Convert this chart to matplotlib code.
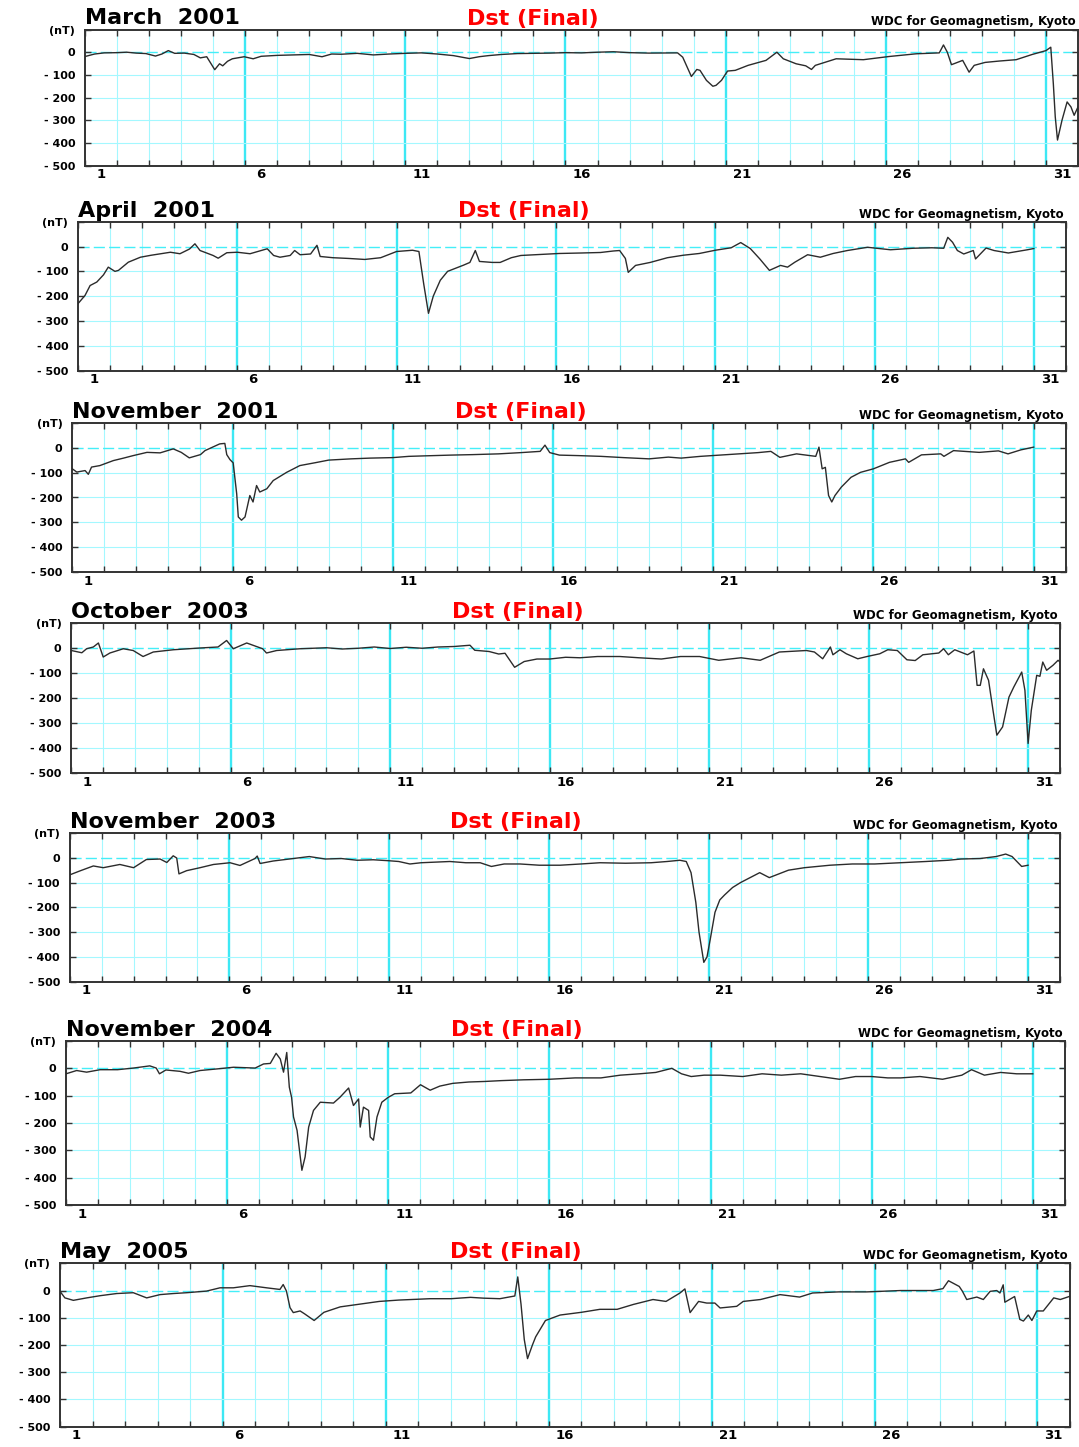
import matplotlib
matplotlib.use("Agg")
import matplotlib.pyplot as plt

W, H = 1079, 1447

# Dst samples per month: (days since 00 UT of day 1, Dst in nT)
mar2001 = [(0.0, -19), (0.3, -8), (0.6, -3), (1.0, -2), (1.3, 0), (1.6, -4), (1.9, -6), (2.2, -17),
           (2.4, -8), (2.6, 7), (2.8, -5), (3.1, -4), (3.4, -10), (3.6, -25), (3.8, -20), (4.05, -77),
           (4.2, -51), (4.3, -60), (4.45, -40), (4.6, -29), (4.97, -20), (5.25, -29), (5.5, -18),
           (6.0, -14), (6.5, -12), (7.0, -10), (7.4, -20), (7.7, -8), (8.0, -9), (8.5, -5), (9.0, -12),
           (9.5, -8), (10.0, -5), (10.5, -3), (11.0, -8), (11.5, -15), (12.0, -28), (12.3, -20),
           (12.6, -15), (13.0, -10), (13.5, -6), (14.0, -5), (14.5, -4), (15.0, -2), (15.5, -3),
           (16.0, 0), (16.5, 2), (17.0, -2), (17.6, -4), (18.5, -3), (18.66, -22), (18.93, -107),
           (19.1, -76), (19.2, -80), (19.4, -124), (19.6, -150), (19.7, -146), (19.87, -124),
           (20.06, -83), (20.3, -80), (20.7, -58), (21.26, -36), (21.6, 0), (21.8, -29), (22.2, -51),
           (22.5, -60), (22.68, -76), (22.8, -58), (23.45, -29), (24.3, -33), (25.1, -19), (25.95, -7),
           (26.67, -3), (26.8, 32), (26.92, 0), (27.05, -55), (27.4, -36), (27.6, -88), (27.76, -58),
           (28.1, -45), (28.54, -39), (29.07, -33), (29.57, -10), (30.0, 7), (30.15, 22), (30.23, -139),
           (30.29, -285), (30.36, -387), (30.5, -300), (30.66, -219), (30.78, -241), (30.88, -278),
           (31.0, -241)]

apr2001 = [(0.0, -230), (0.22, -197), (0.38, -157), (0.59, -143), (0.8, -114), (0.95, -83), (1.16, -100),
           (1.27, -96), (1.58, -63), (1.96, -43), (2.3, -35), (2.6, -29), (2.9, -23), (3.2, -29),
           (3.5, -10), (3.67, 11), (3.83, -16), (4.24, -36), (4.4, -47), (4.67, -25), (5.0, -23),
           (5.4, -29), (5.94, -9), (6.14, -36), (6.34, -43), (6.66, -36), (6.8, -16), (6.97, -33),
           (7.3, -30), (7.5, 5), (7.6, -40), (8.0, -45), (8.5, -48), (9.0, -52), (9.5, -45), (10.0, -20),
           (10.5, -15), (10.7, -20), (10.85, -150), (11.0, -269), (11.15, -200), (11.37, -136),
           (11.6, -100), (11.84, -88), (12.1, -75), (12.3, -64), (12.47, -16), (12.6, -60), (13.0, -64),
           (13.25, -64), (13.6, -45), (13.9, -36), (14.5, -32), (15.1, -28), (15.8, -26), (16.4, -24),
           (16.8, -18), (17.0, -16), (17.18, -48), (17.27, -104), (17.5, -76), (17.96, -64), (18.5, -45),
           (19.0, -35), (19.5, -28), (20.0, -15), (20.5, -5), (20.8, 16), (21.1, -8), (21.4, -50),
           (21.7, -96), (22.05, -76), (22.27, -83), (22.5, -63), (22.9, -33), (23.3, -43), (23.7, -28),
           (24.15, -16), (24.78, -3), (25.5, -13), (26.2, -7), (26.8, -5), (27.17, -7), (27.3, 37),
           (27.45, 17), (27.6, -16), (27.8, -30), (28.1, -16), (28.17, -50), (28.5, -6), (28.75, -16),
           (29.2, -26), (29.8, -13), (30.0, -8)]

nov2001 = [(0.0, -85), (0.14, -98), (0.4, -92), (0.5, -107), (0.6, -78), (0.86, -72), (1.28, -52),
           (1.6, -42), (1.9, -32), (2.33, -19), (2.74, -21), (3.15, -5), (3.4, -19), (3.65, -41),
           (4.0, -28), (4.14, -12), (4.6, 15), (4.76, 17), (4.82, -28), (4.92, -48), (5.02, -61),
           (5.13, -185), (5.18, -278), (5.28, -291), (5.39, -278), (5.54, -192), (5.64, -218),
           (5.75, -152), (5.85, -178), (6.07, -165), (6.27, -132), (6.69, -99), (7.1, -72), (7.6, -60),
           (8.0, -50), (8.7, -45), (9.3, -42), (10.0, -40), (10.5, -35), (11.0, -33), (11.8, -30),
           (12.5, -28), (13.3, -25), (14.0, -20), (14.6, -15), (14.75, 10), (14.9, -20), (15.2, -30),
           (15.8, -32), (16.5, -35), (17.2, -40), (18.0, -45), (18.6, -38), (19.0, -42), (19.6, -35),
           (20.2, -30), (20.8, -25), (21.4, -20), (21.8, -15), (22.08, -39), (22.6, -25), (23.2, -35),
           (23.3, 2), (23.4, -85), (23.5, -79), (23.6, -192), (23.7, -218), (23.8, -192), (24.0, -158),
           (24.3, -119), (24.6, -99), (25.0, -85), (25.5, -59), (26.0, -45), (26.1, -59), (26.5, -29),
           (27.1, -25), (27.2, -35), (27.5, -12), (28.3, -19), (28.9, -13), (29.2, -25), (29.6, -9),
           (30.0, 2)]

oct2003 = [(0.0, -11), (0.33, -20), (0.48, -4), (0.69, 3), (0.85, 19), (1.0, -37), (1.21, -21),
           (1.63, -4), (1.94, -11), (2.25, -35), (2.57, -17), (3.2, -8), (4.03, -1), (4.6, 3), (4.87, 29),
           (5.08, -4), (5.5, 19), (6.0, -4), (6.12, -21), (6.44, -11), (7.17, -4), (8.0, 0), (8.5, -5),
           (9.0, -2), (9.5, 3), (10.0, -3), (10.5, 2), (11.0, -2), (11.5, 3), (12.0, 5), (12.5, 10),
           (12.65, -10), (13.1, -15), (13.4, -25), (13.6, -22), (13.9, -78), (14.2, -55), (14.6, -45),
           (15.0, -45), (15.5, -38), (15.95, -40), (16.5, -35), (17.2, -35), (17.8, -40), (18.5, -45),
           (19.1, -35), (19.7, -35), (20.3, -50), (21.0, -40), (21.6, -50), (22.2, -17), (23.05, -11),
           (23.3, -17), (23.56, -44), (23.8, 3), (23.88, -28), (24.1, -8), (24.3, -24), (24.66, -44),
           (24.95, -35), (25.35, -24), (25.6, -8), (25.9, -11), (26.2, -48), (26.46, -51), (26.7, -28),
           (27.2, -21), (27.35, -4), (27.5, -28), (27.7, -8), (28.1, -28), (28.3, -13), (28.4, -150),
           (28.5, -150), (28.6, -84), (28.76, -130), (28.9, -250), (29.02, -349), (29.2, -316),
           (29.4, -197), (29.55, -157), (29.8, -97), (29.9, -170), (30.0, -382), (30.1, -250),
           (30.27, -110), (30.37, -114), (30.46, -57), (30.58, -90), (30.78, -70), (30.94, -50),
           (31.0, -57)]

nov2003 = [(0.0, -69), (0.32, -53), (0.74, -33), (1.05, -40), (1.57, -27), (2.0, -40), (2.4, -7),
           (2.83, -5), (3.04, -19), (3.24, 8), (3.35, -1), (3.42, -65), (3.66, -52), (4.08, -40),
           (4.5, -27), (5.02, -20), (5.33, -31), (5.8, -3), (5.87, 7), (5.96, -23), (6.37, -13),
           (7.0, -3), (7.5, 5), (8.0, -5), (8.5, -3), (9.0, -10), (9.5, -8), (10.0, -12), (10.3, -15),
           (10.65, -25), (11.0, -20), (11.9, -15), (12.4, -20), (12.85, -20), (13.2, -35), (13.6, -25),
           (14.1, -25), (14.7, -30), (15.35, -30), (16.0, -25), (16.6, -20), (17.4, -22), (18.2, -20),
           (18.7, -15), (19.1, -10), (19.3, -15), (19.45, -60), (19.6, -180), (19.7, -300), (19.85, -422),
           (19.95, -400), (20.05, -330), (20.2, -220), (20.35, -170), (20.5, -150), (20.75, -120),
           (21.0, -100), (21.3, -80), (21.6, -60), (21.9, -80), (22.2, -65), (22.5, -50), (23.0, -40),
           (23.8, -30), (24.5, -25), (25.2, -25), (26.0, -20), (26.8, -15), (27.5, -10), (27.9, -5),
           (28.5, -3), (29.0, 5), (29.3, 15), (29.5, 5), (29.8, -35), (30.0, -30)]

nov2004 = [(0.0, -20), (0.33, -8), (0.64, -14), (1.06, -5), (1.6, -5), (2.09, 1), (2.6, 9), (2.8, 1),
           (2.9, -20), (3.1, -6), (3.54, -11), (3.8, -18), (4.16, -8), (4.7, -2), (5.2, 4), (5.87, 1),
           (6.13, 16), (6.34, 18), (6.52, 55), (6.65, 34), (6.75, -14), (6.85, 58), (6.93, -69),
           (7.0, -106), (7.06, -178), (7.17, -227), (7.32, -373), (7.42, -324), (7.53, -215),
           (7.68, -154), (7.89, -124), (8.3, -127), (8.5, -106), (8.77, -72), (8.92, -136), (9.08, -112),
           (9.13, -215), (9.23, -142), (9.39, -154), (9.44, -251), (9.54, -263), (9.65, -178),
           (9.8, -124), (10.0, -106), (10.2, -93), (10.7, -90), (11.0, -60), (11.3, -80), (11.6, -65),
           (12.0, -55), (12.5, -50), (13.0, -48), (13.5, -45), (14.2, -42), (15.0, -40), (15.8, -35),
           (16.6, -35), (17.2, -25), (17.8, -20), (18.3, -15), (18.8, 0), (19.1, -20), (19.4, -30),
           (19.8, -25), (20.3, -25), (21.0, -30), (21.6, -20), (22.2, -25), (22.8, -20), (23.4, -30),
           (24.0, -40), (24.5, -30), (25.0, -30), (25.5, -35), (25.9, -35), (26.5, -30), (27.2, -40),
           (27.8, -25), (28.1, -5), (28.5, -25), (29.0, -15), (29.5, -20), (30.0, -20)]

may2005 = [(0.0, -3), (0.15, -27), (0.41, -36), (0.82, -27), (1.23, -19), (1.74, -11), (2.25, -8),
           (2.66, -27), (3.07, -15), (3.48, -11), (3.89, -8), (4.5, -2), (4.91, 10), (5.32, 10),
           (5.83, 18), (6.34, 10), (6.75, 4), (6.85, 22), (6.95, -2), (7.06, -63), (7.16, -81),
           (7.37, -75), (7.5, -85), (7.8, -110), (8.1, -80), (8.6, -60), (9.2, -50), (9.8, -40),
           (10.4, -35), (11.36, -30), (12.0, -30), (12.6, -25), (13.0, -28), (13.5, -30), (13.96, -20),
           (14.05, 50), (14.15, -50), (14.25, -180), (14.35, -250), (14.5, -200), (14.6, -170),
           (14.9, -110), (15.35, -90), (16.0, -80), (16.57, -69), (17.1, -69), (17.6, -51), (18.2, -33),
           (18.6, -40), (19.03, -9), (19.18, 6), (19.34, -81), (19.6, -40), (19.85, -46), (20.1, -46),
           (20.26, -64), (20.77, -58), (20.97, -40), (21.5, -33), (22.1, -15), (22.7, -24), (23.1, -9),
           (23.9, -5), (24.76, -5), (25.8, 0), (26.8, 0), (27.1, 7), (27.27, 36), (27.6, 15), (27.7, -3),
           (27.83, -33), (28.14, -24), (28.34, -33), (28.55, -3), (28.75, 0), (28.85, -9), (28.95, 21),
           (29.0, -43), (29.3, -22), (29.46, -106), (29.57, -112), (29.72, -90), (29.83, -110),
           (29.98, -75), (30.18, -75), (30.5, -27), (30.7, -33), (31.0, -21)]

day_labels = [1, 6, 11, 16, 21, 26, 31]
nt_ticks = [-500, -400, -300, -200, -100, 0, 100]
nt_labels = ["- 500", "- 400", "- 300", "- 200", "- 100", "0", "(nT)"]

# title, data, axes box in pixels (left, top, right, bottom), x centre of "Dst (Final)"
panels = [
    ("March  2001", mar2001, (85, 29.5, 1078, 165.7), 533),
    ("April  2001", apr2001, (78, 221.7, 1065.7, 370.7), 524),
    ("November  2001", nov2001, (72.3, 422.7, 1065.7, 572.3), 521),
    ("October  2003", oct2003, (71.3, 622.7, 1060, 773), 518),
    ("November  2003", nov2003, (69.7, 833, 1060, 981.7), 516),
    ("November  2004", nov2004, (66, 1041, 1065, 1205), 517),
    ("May  2005", may2005, (60, 1263.3, 1070, 1426.7), 516),
]

fig = plt.figure(figsize=(W / 100, H / 100), dpi=100)
fig.patch.set_facecolor("white")

for title, data, box, dst_x in panels:
    l, t, r, b = box
    ax = fig.add_axes([l / W, 1 - b / H, (r - l) / W, (b - t) / H])
    ax.set_xlim(0, 31)
    ax.set_ylim(-500, 100)

    # day grid, heavier every five days
    for d in range(1, 31):
        if d % 5 == 0:
            ax.axvline(d, color="#3de8f4", lw=1.7, zorder=1)
        else:
            ax.axvline(d, color="#a4f8ff", lw=0.8, zorder=1)
    for v in range(-400, 0, 100):
        ax.axhline(v, color="#a4f8ff", lw=0.8, zorder=1)
    ax.axhline(0, color="#44eef8", lw=1.0, ls=(0, (8, 3)), zorder=1)

    tt = [p[0] for p in data]
    vv = [p[1] for p in data]
    ax.plot(tt, vv, color="#2b2b2b", lw=1.0, zorder=3)

    ax.set_xticks(range(0, 32))
    ax.set_xticklabels([])
    ax.set_xticks([d - 0.5 for d in day_labels], minor=True)
    ax.set_xticklabels([str(d) for d in day_labels], minor=True,
                       fontsize=9.5, fontweight="bold")
    ax.tick_params(axis="x", which="major", direction="in", top=True, bottom=True,
                   length=4, width=1, color="#333333")
    ax.tick_params(axis="x", which="minor", length=0, pad=2)
    ax.set_yticks(nt_ticks)
    ax.set_yticklabels(nt_labels, fontsize=8, fontweight="bold")
    ax.tick_params(axis="y", direction="in", left=True, right=True, length=4,
                   width=1, color="#333333", pad=7)
    for s in ax.spines.values():
        s.set_color("#333333")
        s.set_linewidth(1.4)

    fig.text(l / W, 1 - (t - 5) / H, title, ha="left", va="baseline",
             fontsize=16, fontweight="bold")
    fig.text(dst_x / W, 1 - (t - 5) / H, "Dst (Final)", ha="center", va="baseline",
             fontsize=16, fontweight="bold", color="#ff0000")
    fig.text((r - 2) / W, 1 - (t - 4) / H, "WDC for Geomagnetism, Kyoto", ha="right",
             va="baseline", fontsize=8.5, fontweight="bold")

fig.savefig("out.png", dpi=100)
